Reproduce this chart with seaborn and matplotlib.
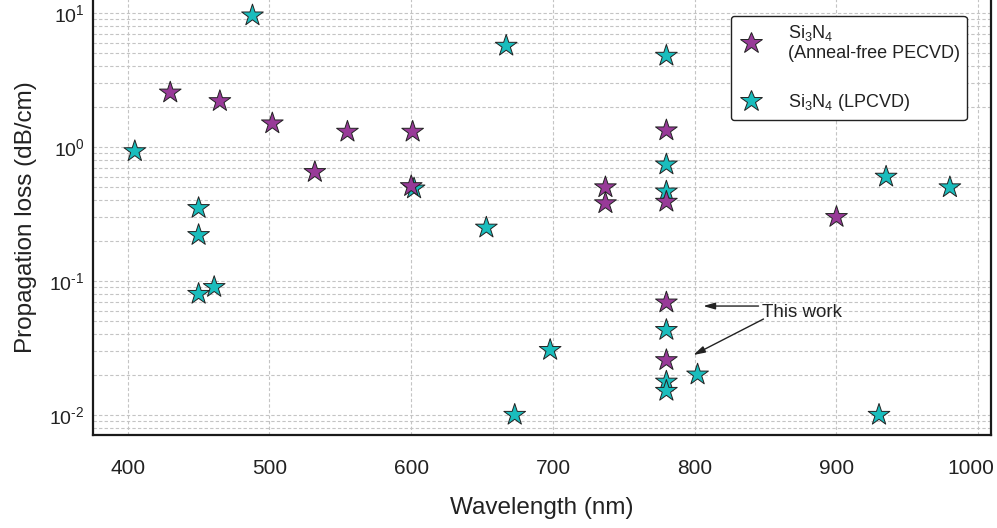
import matplotlib
matplotlib.use("Agg")
import matplotlib.pyplot as plt
import matplotlib.transforms as mtransforms
import seaborn as sns
import pandas as pd
import numpy as np
from matplotlib.ticker import LogLocator, FixedLocator, FuncFormatter

# ---- data ----
pecvd_x = [430, 465, 502, 532, 555, 600, 601, 737, 737, 780, 780, 780, 780, 900]
pecvd_y = [2.55, 2.2, 1.5, 0.65, 1.3, 0.51, 1.3, 0.50, 0.38, 1.33, 0.39, 0.069, 0.0256, 0.30]

lpcvd_x = [405, 450, 450, 450, 461, 488, 602, 653, 667, 673, 698, 780, 780, 780, 780, 780, 780, 802, 930, 935, 980]
lpcvd_y = [0.93, 0.35, 0.22, 0.08, 0.09, 9.6, 0.49, 0.25, 5.7, 0.01, 0.0305, 4.8, 0.74, 0.465, 0.043, 0.0177, 0.0151, 0.020, 0.010, 0.60, 0.50]

label_pecvd = "Si$_3$N$_4$\n(Anneal-free PECVD)"
label_lpcvd = "Si$_3$N$_4$ (LPCVD)"
x_ticks = [400, 500, 600, 700, 800, 900, 1000]

sns.set_style("white")
plt.rcParams['font.family'] = ['Liberation Sans', 'DejaVu Sans']
plt.rcParams['mathtext.fontset'] = 'custom'
plt.rcParams['mathtext.rm'] = 'Liberation Sans'
plt.rcParams['mathtext.it'] = 'Liberation Sans:italic'
plt.rcParams['mathtext.bf'] = 'Liberation Sans:bold'
plt.rcParams['axes.unicode_minus'] = False

df = pd.concat([
    pd.DataFrame({"x": lpcvd_x, "y": lpcvd_y, "type": label_lpcvd}),
    pd.DataFrame({"x": pecvd_x, "y": pecvd_y, "type": label_pecvd}),
], ignore_index=True)

c_pecvd = "#983A98"
c_lpcvd = "#1ABDBD"
txt = "#222222"

fig = plt.figure(figsize=(9.97, 5.28), dpi=100)
ax = fig.add_axes([93/997, 1 - 435/528, (991-93)/997, 435/528 + 0.002])

sns.scatterplot(data=df, x="x", y="y", hue="type",
                palette={label_pecvd: c_pecvd, label_lpcvd: c_lpcvd},
                marker="*", s=270, edgecolor="#222222", linewidth=0.7,
                ax=ax, zorder=3)

ax.set_yscale("log")
ax.set_xlim(375.5, 1009)
ax.set_ylim(10**-2.15, 10**1.106)
ax.xaxis.set_major_locator(FixedLocator(x_ticks))
ax.yaxis.set_major_locator(LogLocator(base=10, numticks=10))
ax.yaxis.set_minor_locator(LogLocator(base=10, subs=np.arange(2, 10), numticks=20))


def log_fmt(v, pos):
    e = int(round(np.log10(v)))
    return r"10$^{\text{%d}}$" % e


ax.yaxis.set_major_formatter(FuncFormatter(log_fmt))

ax.grid(True, which="major", axis="both", color="#c4c4c4", linestyle=(0, (3, 2)), linewidth=0.8)
ax.grid(True, which="minor", axis="y", color="#c4c4c4", linestyle=(0, (3, 2)), linewidth=0.8)
ax.set_axisbelow(True)

for side in ["left", "bottom", "right"]:
    ax.spines[side].set_linewidth(1.6)
    ax.spines[side].set_color("#1a1a1a")
ax.spines["top"].set_visible(False)

ax.tick_params(axis="both", which="major", length=3, width=1, color="#333333",
               labelcolor=txt, direction="out")
ax.tick_params(axis="x", pad=14, labelsize=15)
ax.tick_params(axis="y", pad=3, labelsize=14)
ax.tick_params(axis="y", which="minor", length=0)

ax.set_xlabel("Wavelength (nm)", fontsize=17.5, color=txt, labelpad=14)
ax.set_ylabel("Propagation loss (dB/cm)", fontsize=17.5, color=txt, labelpad=9)

# legend (PECVD first)
handles, labels = ax.get_legend_handles_labels()
order = [labels.index(label_pecvd), labels.index(label_lpcvd)]
leg = ax.legend([handles[i] for i in order], [labels[i] for i in order],
                loc="upper right", bbox_to_anchor=(0.973, 0.962),
                fontsize=13, frameon=True, fancybox=True, labelspacing=1.65,
                borderpad=0.4, handletextpad=1.35, handlelength=1.4,
                markerscale=1.0, borderaxespad=0)
frame = leg.get_frame()
frame.set_edgecolor("#222222")
frame.set_linewidth(1.0)
frame.set_alpha(1)
for t in leg.get_texts():
    t.set_color(txt)

# annotation
arrow_style = "-|>,head_length=0.7,head_width=0.2"
ax.annotate("", xy=(806, 0.065), xytext=(845, 0.065),
            arrowprops=dict(arrowstyle=arrow_style, color=txt, lw=1.0, shrinkA=0, shrinkB=0))
ax.annotate("", xy=(799, 0.028), xytext=(848.5, 0.052),
            arrowprops=dict(arrowstyle=arrow_style, color=txt, lw=1.0, shrinkA=0, shrinkB=0))
ax.text(847.5, 0.0585, "This work", fontsize=13.5, color=txt, ha="left", va="center")

# shift the last x tick label left so it fits, as in the reference
fig.canvas.draw()
last = ax.get_xticklabels()[-1]
last.set_transform(last.get_transform() + mtransforms.ScaledTranslation(-7/100, 0, fig.dpi_scale_trans))

fig.savefig("out.png", dpi=100)
